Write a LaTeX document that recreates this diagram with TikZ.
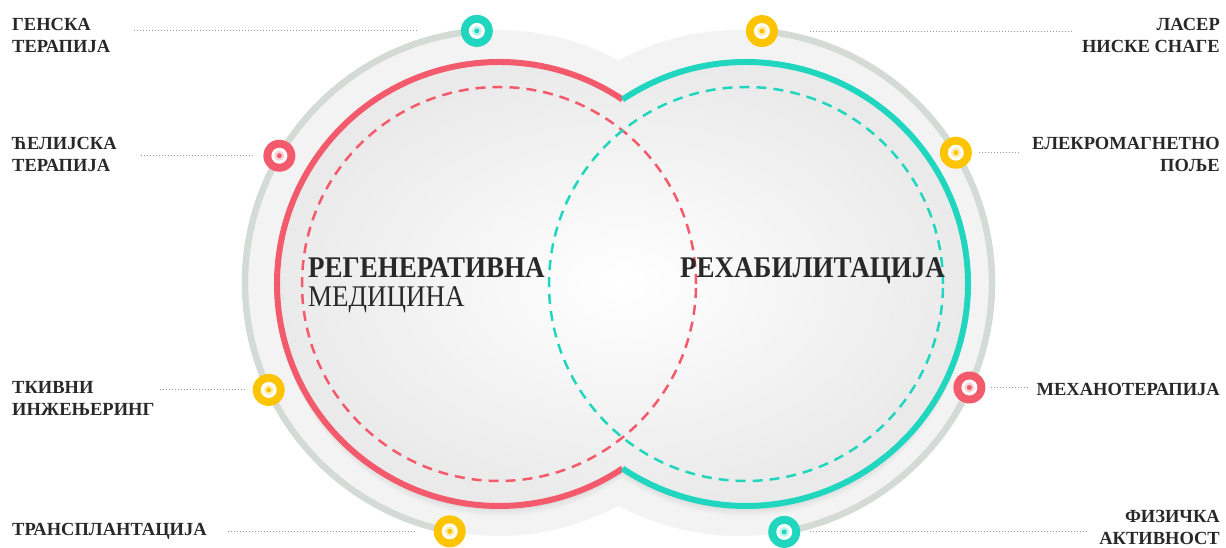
\documentclass[tikz,border=0pt]{standalone}
\usepackage{fontspec}
\setmainfont{Liberation Serif}
\newfontfamily\bigserif[FakeStretch=0.9]{Liberation Serif}

\definecolor{redc}{RGB}{243,90,108}
\definecolor{tealc}{RGB}{32,214,190}
\definecolor{yellowc}{RGB}{255,196,0}
\definecolor{ringgray}{RGB}{212,218,214}
\definecolor{paleback}{RGB}{243,243,243}
\definecolor{innergray}{RGB}{234,234,234}
\definecolor{txt}{RGB}{40,40,40}
\definecolor{dotgray}{RGB}{150,150,150}

\tikzset{
  bulletpt/.style={circle, fill=#1, minimum size=32pt, inner sep=0pt,
    path picture={
      \fill[white] (path picture bounding box.center) circle (8pt);
      \fill[#1!30] (path picture bounding box.center) circle (5pt);
      \fill[#1] (path picture bounding box.center) circle (2.5pt);
    }},
  lbl/.style={font=\fontsize{18.5}{22}\selectfont\bfseries, text=txt, inner sep=0pt},
  bigtxt/.style={font=\bigserif\fontsize{30}{34}\selectfont, text=txt, inner sep=0pt},
  leader/.style={dotgray, line width=1pt, dash pattern=on 1pt off 2pt},
  dashring/.style={line width=2.5pt, dash pattern=on 10pt off 7pt},
}

\begin{document}
\begin{tikzpicture}[x=1pt,y=1pt]
    \useasboundingbox (0,0) rectangle (1226,548);
    \coordinate (GL) at (498,265);
    \coordinate (GR) at (739,265);
    \coordinate (L) at (499,264);
    \coordinate (R) at (746,264);

    % pale discs and soft shadow
    \fill[paleback] (GL) circle (253) (GR) circle (253);
    \foreach \s in {2,4,...,10}
        \fill[black, opacity=0.02] ([yshift=-\s]L) circle (222) ([yshift=-\s]R) circle (222);

    \draw[ringgray, line width=6.5pt] (GL) ++(94.8:253) arc[start angle=94.8, end angle=259, radius=253];
    \draw[ringgray, line width=6.5pt] (GR) ++(84.8:253) arc[start angle=84.8, end angle=-79.7, radius=253];

    \shade[inner color=white, outer color=innergray] (L) circle (222) (R) circle (222);

    \draw[redc, dashring] (L) circle (197);
    \draw[tealc, dashring] (R) circle (197);
    \draw[redc, line width=6pt] (L) ++(56.2:222) arc[start angle=56.2, end angle=303.8, radius=222];
    \draw[tealc, line width=6pt] (R) ++(123.8:222) arc[start angle=123.8, end angle=-123.8, radius=222];

    \node[bigtxt, anchor=base west] (regen) at (308,270) {\bfseries РЕГЕНЕРАТИВНА};
    \node[bigtxt, anchor=base west] (medic) at (308,241) {МЕДИЦИНА};
    \node[bigtxt, anchor=base west] (rehab) at (680,270) {\bfseries РЕХАБИЛИТАЦИЈА};

    % bullets on the grey rings
    \node[bulletpt=tealc] (bgen) at ([shift={(94.8:253)}]GL) {};
    \node[bulletpt=redc] (bcel) at ([shift={(149.8:253)}]GL) {};
    \node[bulletpt=yellowc] (btis) at ([shift={(205:253)}]GL) {};
    \node[bulletpt=yellowc] (btra) at ([shift={(259:253)}]GL) {};
    \node[bulletpt=yellowc] (blas) at ([shift={(84.8:253)}]GR) {};
    \node[bulletpt=yellowc] (bele) at ([shift={(31:253)}]GR) {};
    \node[bulletpt=redc] (bmeh) at ([shift={(-24.4:253)}]GR) {};
    \node[bulletpt=tealc] (bfiz) at ([shift={(-79.7:253)}]GR) {};

    \node[lbl, anchor=north west, align=left] (gen) at (12,530) {ГЕНСКА\\ТЕРАПИЈА};
    \node[lbl, anchor=north west, align=left] (cel) at (12,411) {ЋЕЛИЈСКА\\ТЕРАПИЈА};
    \node[lbl, anchor=north west, align=left] (tis) at (12,167) {ТКИВНИ\\ИНЖЕЊЕРИНГ};
    \node[lbl, anchor=north west, align=left] (tra) at (12,25) {ТРАНСПЛАНТАЦИЈА};
    \node[lbl, anchor=north east, align=right] (las) at (1220,530) {ЛАСЕР\\НИСКЕ СНАГЕ};
    \node[lbl, anchor=north east, align=right] (ele) at (1220,411) {ЕЛЕКРОМАГНЕТНО\\ПОЉЕ};
    \node[lbl, anchor=north east, align=right] (meh) at (1220,165) {МЕХАНОТЕРАПИЈА};
    \node[lbl, anchor=north east, align=right] (fiz) at (1220,38) {ФИЗИЧКА\\АКТИВНОСТ};

    \draw[leader, shorten <=24pt, shorten >=44pt] (gen.east |- bgen) -- (bgen.west);
    \draw[leader, shorten <=24pt, shorten >=11pt] (cel.east |- bcel) -- (bcel.west);
    \draw[leader, shorten <=5pt, shorten >=7pt] (tis.east |- btis) -- (btis.west);
    \draw[leader, shorten <=21pt, shorten >=17pt] (tra.east |- btra) -- (btra.west);
    \draw[leader, shorten <=32pt, shorten >=8pt] (blas.east) -- (las.west |- blas);
    \draw[leader, shorten <=7pt, shorten >=13pt] (bele.east) -- (ele.west |- bele);
    \draw[leader, shorten <=5pt, shorten >=8pt] (bmeh.east) -- (meh.west |- bmeh);
    \draw[leader, shorten <=10pt, shorten >=10pt] (bfiz.east) -- (fiz.west |- bfiz);
\end{tikzpicture}
\end{document}
